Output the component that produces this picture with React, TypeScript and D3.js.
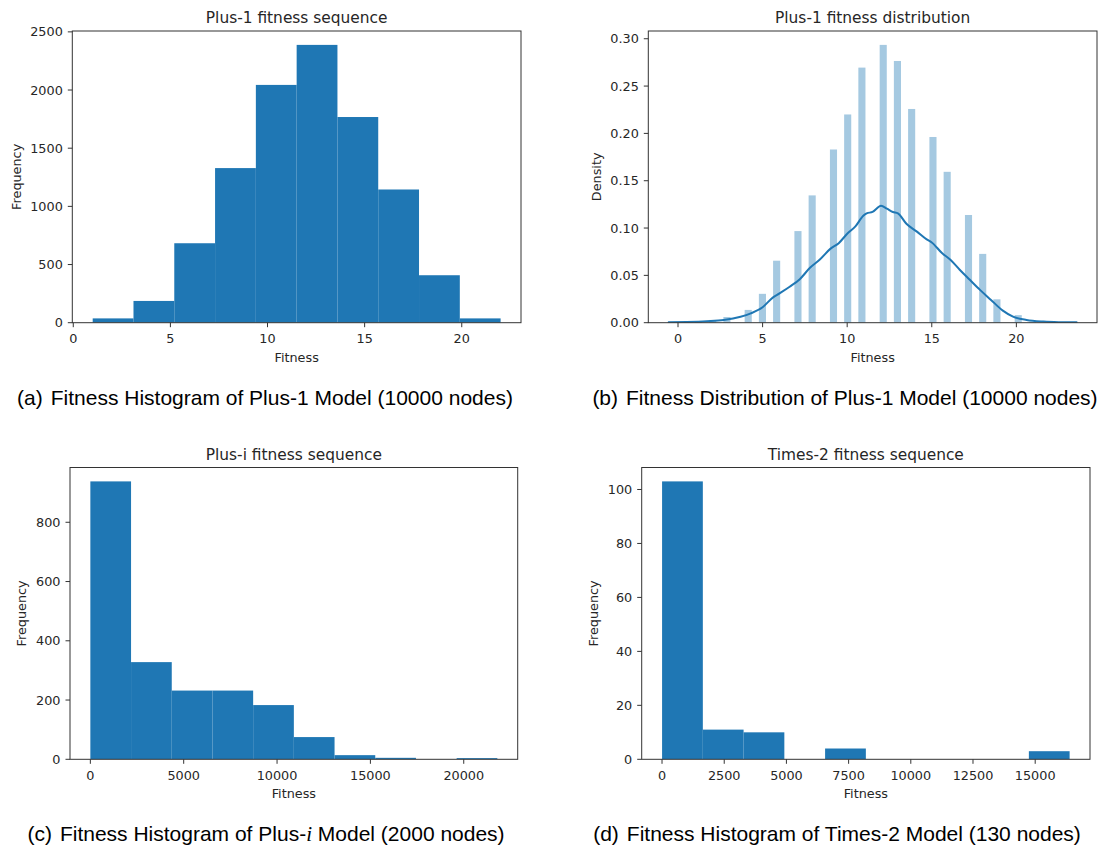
import React from 'react';
import * as d3 from 'd3';

// ---------- Data ----------
// (a) Plus-1 fitness histogram (10 bins between min and max fitness)
const plus1Range = [1, 22];
const plus1Counts = [37, 187, 683, 1329, 2044, 2388, 1768, 1145, 408, 37];
const plus1XTicks = [0, 5, 10, 15, 20];
const plus1YTicks = [0, 500, 1000, 1500, 2000, 2500];

// (b) Plus-1 fitness distribution (density histogram, 50 bins, + KDE)
const distRange = [1, 22];
const distBinCount = 50;
const distValues = [1, 2, 3, 4, 5, 6, 7, 8, 9, 10, 11, 12, 13, 14, 15, 16, 17, 18, 19, 20, 21, 22];
const distDensity = [0.0007, 0.0029, 0.006, 0.0135, 0.0305, 0.0655, 0.0968, 0.1345, 0.183, 0.22, 0.2695, 0.2935, 0.2765, 0.2258, 0.1962, 0.1594, 0.1138, 0.0727, 0.0247, 0.008, 0.0008, 0.0003];
const kdeX = [-0.55, 0.5, 1.7, 2.7, 3.7, 4.3, 5.0, 5.6, 6.0, 6.6, 7.2, 7.8, 8.4, 9.0, 9.5, 10.0, 10.5, 10.95, 11.15, 11.5, 12.0, 12.35, 12.7, 13.0, 13.5, 14.1, 14.7, 15.0, 15.6, 16.1, 16.65, 17.25, 17.85, 18.5, 19.2, 19.8, 20.6, 21.6, 22.5, 23.56];
const kdeY = [0.0004, 0.0008, 0.0016, 0.0028, 0.0062, 0.0098, 0.0163, 0.0265, 0.031, 0.038, 0.046, 0.058, 0.067, 0.078, 0.084, 0.094, 0.102, 0.113, 0.1155, 0.117, 0.1235, 0.1205, 0.117, 0.1155, 0.1045, 0.0965, 0.088, 0.0848, 0.0736, 0.0665, 0.056, 0.0453, 0.0347, 0.0241, 0.0127, 0.0064, 0.0029, 0.0012, 0.0006, 0.0004];
const distXTicks = [0, 5, 10, 15, 20];
const distYTicks = [0, 0.05, 0.1, 0.15, 0.2, 0.25, 0.3];

// (c) Plus-i fitness histogram
const plusIRange = [0, 21800];
const plusICounts = [938, 328, 232, 232, 183, 75, 14, 5, 0, 4];
const plusIXTicks = [0, 5000, 10000, 15000, 20000];
const plusIYTicks = [0, 200, 400, 600, 800];

// (d) Times-2 fitness histogram
const times2Range = [2, 16384];
const times2Counts = [103, 11, 10, 0, 4, 0, 0, 0, 0, 3];
const times2XTicks = [0, 2500, 5000, 7500, 10000, 12500, 15000];
const times2YTicks = [0, 20, 40, 60, 80, 100];

// ---------- Style ----------
const BLUE = '#1f77b4';
const TEXT = '#262626';
const SPINE = '#333333';
const MPL_FONT = '"DejaVu Sans", Verdana, sans-serif';
const CAP_FONT = '"Liberation Sans", Arial, sans-serif';
const CAP_FS = 21;
const TICK_FS = 12.8;
const TITLE_FS = 15.4;

type Box = { l: number; t: number; r: number; b: number };

const boxA: Box = { l: 72.3, t: 31, r: 521, b: 322.7 };
const boxB: Box = { l: 648.3, t: 31, r: 1097, b: 322.7 };
const boxC: Box = { l: 70, t: 467.5, r: 517.7, b: 759.3 };
const boxD: Box = { l: 641.7, t: 467.5, r: 1090, b: 759.3 };

function padDomain(lo: number, hi: number): [number, number] {
  const m = (hi - lo) * 0.05;
  return [lo - m, hi + m];
}

function histEdges(range: number[], n: number): number[] {
  const w = (range[1] - range[0]) / n;
  return d3.range(n + 1).map((i) => range[0] + i * w);
}

interface AxesProps {
  box: Box;
  x: d3.ScaleLinear<number, number>;
  y: d3.ScaleLinear<number, number>;
  xTicks: number[];
  yTicks: number[];
  yFmt?: (v: number) => string;
  title: string;
  ylabel: string;
  ylabelX: number;
  children?: React.ReactNode;
}

function Axes({ box, x, y, xTicks, yTicks, yFmt, title, ylabel, ylabelX, children }: AxesProps) {
  const cx = (box.l + box.r) / 2;
  const cy = (box.t + box.b) / 2;
  const fmt = yFmt || ((v: number) => String(v));
  const clipId = `clip-${Math.round(box.l)}-${Math.round(box.t)}`;
  return (
    <g>
      <defs>
        <clipPath id={clipId}>
          <rect x={box.l} y={box.t} width={box.r - box.l} height={box.b - box.t} />
        </clipPath>
      </defs>
      <g clipPath={`url(#${clipId})`}>{children}</g>
      <rect x={box.l} y={box.t} width={box.r - box.l} height={box.b - box.t} fill="none" stroke={SPINE} strokeWidth={1} />
      {xTicks.map((t) => (
        <g key={'x' + t}>
          <line x1={x(t)} x2={x(t)} y1={box.b} y2={box.b + 4.5} stroke={SPINE} strokeWidth={1} />
          <text x={x(t)} y={box.b + 20.3} textAnchor="middle" fontSize={TICK_FS} fontFamily={MPL_FONT} fill={TEXT}>
            {t}
          </text>
        </g>
      ))}
      {yTicks.map((t) => (
        <g key={'y' + t}>
          <line x1={box.l - 4.5} x2={box.l} y1={y(t)} y2={y(t)} stroke={SPINE} strokeWidth={1} />
          <text x={box.l - 9.5} y={y(t)} dy="0.36em" textAnchor="end" fontSize={TICK_FS} fontFamily={MPL_FONT} fill={TEXT}>
            {fmt(t)}
          </text>
        </g>
      ))}
      <text x={cx} y={box.t - 7.7} textAnchor="middle" fontSize={TITLE_FS} fontFamily={MPL_FONT} fill={TEXT}>
        {title}
      </text>
      <text x={cx} y={box.b + 38.9} textAnchor="middle" fontSize={TICK_FS} fontFamily={MPL_FONT} fill={TEXT}>
        Fitness
      </text>
      <text
        transform={`translate(${ylabelX},${cy}) rotate(-90)`}
        dy="0.36em"
        textAnchor="middle"
        fontSize={TICK_FS}
        fontFamily={MPL_FONT}
        fill={TEXT}
      >
        {ylabel}
      </text>
    </g>
  );
}

function HistPanel({ box, range, counts, xTicks, yTicks, title, ylabelX }: {
  box: Box; range: number[]; counts: number[]; xTicks: number[]; yTicks: number[]; title: string; ylabelX: number;
}) {
  const edges = histEdges(range, counts.length);
  const x = d3.scaleLinear().domain(padDomain(range[0], range[1])).range([box.l, box.r]);
  const y = d3.scaleLinear().domain([0, (d3.max(counts) as number) * 1.05]).range([box.b, box.t]);
  return (
    <Axes box={box} x={x} y={y} xTicks={xTicks} yTicks={yTicks} title={title} ylabel="Frequency" ylabelX={ylabelX}>
      {counts.map((c, i) =>
        c > 0 ? (
          <rect key={i} x={x(edges[i])} y={y(c)} width={x(edges[i + 1]) - x(edges[i])} height={y(0) - y(c)} fill={BLUE} />
        ) : null
      )}
    </Axes>
  );
}

function DistPanel({ box }: { box: Box }) {
  const edges = histEdges(distRange, distBinCount);
  const w = (distRange[1] - distRange[0]) / distBinCount;
  const lo = Math.min(d3.min(kdeX) as number, distRange[0]);
  const hi = Math.max(d3.max(kdeX) as number, distRange[1]);
  const x = d3.scaleLinear().domain(padDomain(lo, hi)).range([box.l, box.r]);
  const y = d3
    .scaleLinear()
    .domain([0, Math.max(d3.max(distDensity) as number, d3.max(kdeY) as number) * 1.05])
    .range([box.b, box.t]);
  const line = d3
    .line<number>()
    .x((_, i) => x(kdeX[i]))
    .y((d) => y(d))
    .curve(d3.curveMonotoneX);
  return (
    <Axes
      box={box}
      x={x}
      y={y}
      xTicks={distXTicks}
      yTicks={distYTicks}
      yFmt={(v) => v.toFixed(2)}
      title="Plus-1 fitness distribution"
      ylabel="Density"
      ylabelX={596.7}
    >
      {distValues.map((v, i) => {
        const bi = Math.min(distBinCount - 1, Math.floor((v - distRange[0]) / w + 1e-9));
        const d = distDensity[i];
        return (
          <rect
            key={v}
            x={x(edges[bi])}
            y={y(d)}
            width={x(edges[bi + 1]) - x(edges[bi])}
            height={y(0) - y(d)}
            fill={BLUE}
            fillOpacity={0.4}
          />
        );
      })}
      <path d={line(kdeY) || ''} fill="none" stroke={BLUE} strokeWidth={2} strokeLinejoin="round" strokeLinecap="round" />
    </Axes>
  );
}

function Caption({ cx, y, tag, parts }: { cx: number; y: number; tag: string; parts: React.ReactNode }) {
  return (
    <text x={cx} y={y} textAnchor="middle" fontSize={CAP_FS} fontFamily={CAP_FONT} fill="#000">
      <tspan>{tag}</tspan>
      <tspan dx={8}>{parts}</tspan>
    </text>
  );
}

export default function App() {
  return (
    <svg
      width={1102}
      height={848}
      viewBox="0 0 1102 848"
      style={{ position: 'absolute', left: 0, top: 0, background: '#fff' }}
    >
      <rect x={0} y={0} width={1102} height={848} fill="#fff" />
      <HistPanel
        box={boxA}
        range={plus1Range}
        counts={plus1Counts}
        xTicks={plus1XTicks}
        yTicks={plus1YTicks}
        title="Plus-1 fitness sequence"
        ylabelX={16.7}
      />
      <DistPanel box={boxB} />
      <HistPanel
        box={boxC}
        range={plusIRange}
        counts={plusICounts}
        xTicks={plusIXTicks}
        yTicks={plusIYTicks}
        title="Plus-i fitness sequence"
        ylabelX={21.7}
      />
      <HistPanel
        box={boxD}
        range={times2Range}
        counts={times2Counts}
        xTicks={times2XTicks}
        yTicks={times2YTicks}
        title="Times-2 fitness sequence"
        ylabelX={593.3}
      />
      <Caption cx={265} y={404.5} tag="(a)" parts="Fitness Histogram of Plus-1 Model (10000 nodes)" />
      <Caption cx={845} y={404.5} tag="(b)" parts="Fitness Distribution of Plus-1 Model (10000 nodes)" />
      <text x={266} y={840.5} textAnchor="middle" fontSize={CAP_FS} fontFamily={CAP_FONT} fill="#000">
        <tspan>(c)</tspan>
        <tspan dx={8}>Fitness Histogram of Plus-</tspan>
        <tspan fontFamily='"Liberation Serif", "DejaVu Serif", serif' fontStyle="italic">i</tspan>
        <tspan> Model (2000 nodes)</tspan>
      </text>
      <Caption cx={837} y={840.5} tag="(d)" parts="Fitness Histogram of Times-2 Model (130 nodes)" />
    </svg>
  );
}
